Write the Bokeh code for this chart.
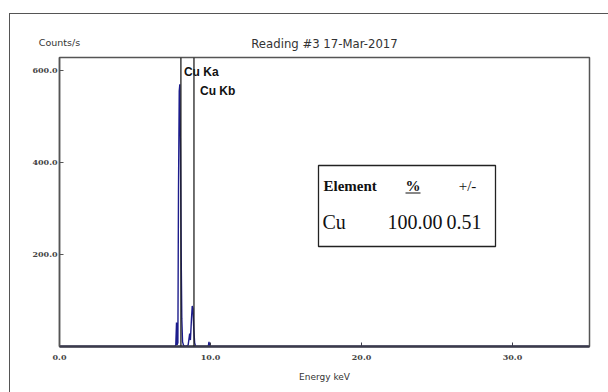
from bokeh.plotting import figure
from bokeh.models import (Range1d, FixedTicker, PrintfTickFormatter, Span, Label,
                          LinearAxis, InlineStyleSheet)
from bokeh.embed import file_html
from bokeh.resources import INLINE

# ---- data ----
energy_kev = [0.0, 7.60, 7.70, 7.75, 7.79, 7.84, 7.88, 7.93, 7.97, 8.01, 8.06, 8.10,
              8.15, 8.22, 8.35, 8.52, 8.62, 8.67, 8.74, 8.79, 8.84, 8.89, 8.95, 9.02,
              9.85, 9.90, 9.95, 35.0]
counts = [0, 0, 2, 52, 4, 8, 335, 555, 570, 430, 198, 60,
          10, 2, 0, 3, 28, 14, 60, 88, 82, 40, 8, 0,
          0, 10, 0, 0]

line_names = ["Cu Ka", "Cu Kb"]
line_energies = [8.04, 8.905]

x_ticks = [0, 10, 20, 30]
y_ticks = [200, 400, 600]

table_header = ["Element", "%", "+/-"]
table_element = ["Cu"]
table_percent = ["100.00"]
table_error = ["0.51"]

title_text = "Reading #3 17-Mar-2017"
y_unit = "Counts/s"
x_label = "Energy keV"

# ---- layout ----
W, H = 600, 384
FL, FT, FR, FB = 59, 57, 589, 346  # frame in canvas px
X0, X1 = 0.0, 35.1
Y0, Y1 = 0.0, 628.0


def cx(px):  # canvas x -> data x
    return X0 + (px - FL) / (FR - FL) * (X1 - X0)


def cy(py):  # canvas y -> data y
    return Y0 + (FB - py) / (FB - FT) * (Y1 - Y0)


p = figure(width=W, height=H, output_backend="svg", toolbar_location=None,
           x_range=Range1d(X0, X1), y_range=Range1d(Y0, Y1),
           min_border_left=FL, min_border_top=FT, min_border_right=W - FR,
           min_border_bottom=H - FB)
p.background_fill_color = "white"
p.border_fill_color = "white"
p.grid.visible = False
p.outline_line_color = "#555555"
p.outline_line_width = 1.5

xa = p.below[0]
ya = p.left[0]

# top "axis" carrying the unit text and the title
p.extra_x_ranges = {"top": Range1d(0, 1)}
top = LinearAxis(x_range_name="top", ticker=FixedTicker(ticks=[0]),
                 major_label_overrides={0: y_unit})
top.axis_line_color = None
top.major_tick_line_color = None
top.minor_tick_line_color = None
top.major_tick_in = 0
top.major_tick_out = 0
top.major_label_standoff = 10
top.major_label_text_font = "DejaVu Sans"
top.major_label_text_font_size = "9.5px"
top.major_label_text_color = "#333333"
top.axis_label = title_text
top.axis_label_text_font = "DejaVu Sans"
top.axis_label_text_font_size = "11.7px"
top.axis_label_text_font_style = "normal"
top.axis_label_text_color = "#333333"
top.axis_label_standoff = -17
p.add_layout(top, "above")

xa.ticker = FixedTicker(ticks=x_ticks)
xa.formatter = PrintfTickFormatter(format="%.1f")
xa.axis_line_width = 2.5
xa.axis_line_color = "#3b3b4b"
xa.major_tick_in = 4
xa.major_tick_out = 0
xa.major_tick_line_color = "#3b3b4b"
xa.minor_tick_line_color = None
xa.major_label_text_align = "left"
xa.major_label_text_font = "DejaVu Serif"
xa.major_label_text_font_size = "8px"
xa.major_label_text_font_style = "bold"
xa.major_label_text_color = "#444444"
xa.major_label_standoff = 8
xa.axis_label = x_label
xa.axis_label_text_font = "DejaVu Sans"
xa.axis_label_text_font_size = "9px"
xa.axis_label_text_font_style = "normal"
xa.axis_label_text_color = "#333333"
xa.axis_label_standoff = 9

ya.ticker = FixedTicker(ticks=y_ticks)
ya.formatter = PrintfTickFormatter(format="%.1f")
ya.axis_line_width = 1.5
ya.axis_line_color = "#555555"
ya.major_tick_in = 4
ya.major_tick_out = 0
ya.major_tick_line_color = "#555555"
ya.minor_tick_line_color = None
ya.major_label_text_font = "DejaVu Serif"
ya.major_label_text_font_size = "8px"
ya.major_label_text_font_style = "bold"
ya.major_label_text_color = "#444444"
ya.major_label_standoff = 2

# outer frame (decorative CSS)
p.stylesheets = [InlineStyleSheet(css=(
    ":host::after { content: ''; position: absolute; left: 9px; top: 13px; "
    "right: -20px; bottom: -20px; border: 1.5px solid #555; pointer-events: none; }"))]

# spectrum
p.line(energy_kev, counts, line_color="#1c1c8c", line_width=1.4)

# marker lines and labels
for i, (nm, e) in enumerate(zip(line_names, line_energies)):
    p.add_layout(Span(location=e, dimension="height", line_color="#222222", line_width=1.3))
    p.add_layout(Label(x=e, y=cy(71 + 19 * i), x_offset=3 + 3 * i, text=nm,
                       text_font="Liberation Sans", text_font_size="12px",
                       text_font_style="bold", text_baseline="middle",
                       text_color="#111111"))

# result table
p.quad(left=[cx(318)], right=[cx(495)], top=[cy(165)], bottom=[cy(246)],
       fill_color="white", line_color="#222222", line_width=1.3)
hdr_x = [cx(323), cx(412.5), cx(467)]
hdr_align = ["left", "center", "center"]
hdr_style = ["bold", "bold", "normal"]
for t, x, a, s in zip(table_header, hdr_x, hdr_align, hdr_style):
    p.add_layout(Label(x=x, y=cy(185), text=t, text_font="Liberation Serif",
                       text_font_size="15px", text_font_style=s,
                       text_baseline="middle", text_align=a, text_color="#111111"))
p.segment(x0=[cx(405)], x1=[cx(420)], y0=[cy(192.5)], y1=[cy(192.5)],
          line_color="#111111", line_width=1.2)
for j, (el, pc, er) in enumerate(zip(table_element, table_percent, table_error)):
    yy = cy(221 + 24 * j)
    p.add_layout(Label(x=cx(322), y=yy, text=el, text_font="Liberation Serif",
                       text_font_size="20px", text_baseline="middle", text_color="#111111"))
    p.add_layout(Label(x=cx(442), y=yy, text=pc, text_font="Liberation Serif",
                       text_font_size="20px", text_baseline="middle", text_align="right",
                       text_color="#111111"))
    p.add_layout(Label(x=cx(446), y=yy, text=er, text_font="Liberation Serif",
                       text_font_size="20px", text_baseline="middle", text_color="#111111"))

open("out.html", "w").write(file_html(p, INLINE))
